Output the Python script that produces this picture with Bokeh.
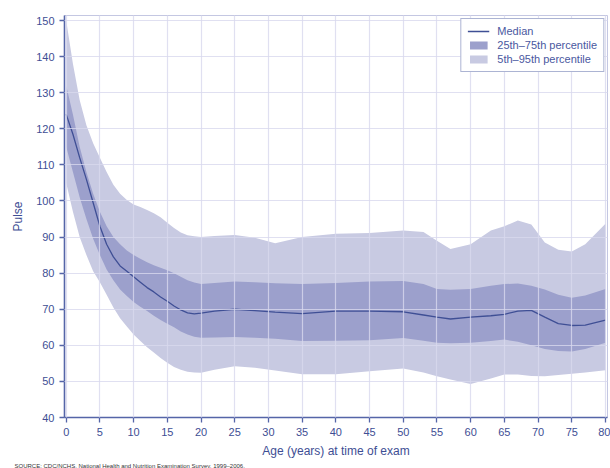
from bokeh.plotting import figure
from bokeh.models import ColumnDataSource, Legend, LegendItem, Title, FixedTicker, Range1d
from bokeh.embed import file_html
from bokeh.resources import INLINE

# Age (years) at time of exam
ages = [0, 1, 2, 3, 4, 5, 6, 7, 8, 9, 10, 11, 12, 13, 14, 15, 16, 17, 18, 19, 20, 22,
        25, 28, 31, 35, 40, 45, 50, 53, 55, 57, 60, 63, 65, 67, 69, 71, 73, 75, 77, 80]
p95 = [150, 138, 128, 121, 116, 112, 108, 104.5, 102, 100.3, 99, 98.3, 97.5, 96.6, 95.5, 94,
       92.5, 91.3, 90.5, 90.2, 90, 90.3,
       90.6, 89.8, 88.3, 90, 90.9, 91.1, 91.8, 91.4, 89, 86.7, 88, 91.8, 93, 94.6, 93.5,
       88.5, 86.5, 86, 88, 93.7]
p75 = [132, 124, 115, 108, 102, 97, 93, 90, 88, 86.3, 85, 84, 83, 82.2, 81.5, 80.8,
       80, 79, 78, 77.4, 77, 77.3,
       77.7, 77.5, 77.2, 77, 77.3, 77.7, 77.8, 77, 75.6, 75.4, 75.6, 76.5, 77, 77.1, 76.5,
       75.5, 74, 73.2, 73.8, 75.6]
p50 = [124, 118.5, 112, 106, 99.5, 93, 88, 84.5, 82, 80.5, 79, 77.5, 76, 74.8, 73.4, 72.2,
       70.9, 69.8, 69, 68.7, 68.9, 69.5,
       70, 69.6, 69.2, 68.8, 69.5, 69.5, 69.3, 68.4, 67.8, 67.3, 67.8, 68.2, 68.6, 69.5, 69.7,
       67.8, 66, 65.5, 65.6, 67]
p25 = [115, 108, 101, 95, 89.5, 85, 81, 78, 75.5, 73.7, 72, 70.7, 69.5, 68.2, 67, 66,
       65, 63.8, 63, 62.4, 62.1, 62.2,
       62.3, 62.1, 61.8, 61.2, 61.3, 61.4, 62, 61.3, 60.7, 60.6, 60.7, 61.2, 61.6, 61, 60,
       59, 58.4, 58.3, 59, 60.7]
p5 = [105, 97, 90, 85, 80.5, 77.5, 74, 70.5, 67.5, 65.2, 63, 61.2, 59.5, 58, 56.5, 55.2,
      54, 53.2, 52.7, 52.5, 52.4, 53.2,
      54.2, 53.8, 53, 52, 52, 52.8, 53.6, 52.5, 51.4, 50.5, 49.3, 50.8, 51.9, 51.9, 51.5,
      51.4, 51.8, 52.1, 52.5, 53.1]

x_ticks = list(range(0, 81, 5))
y_ticks = list(range(40, 151, 10))

src = ColumnDataSource(dict(age=ages, p5=p5, p25=p25, p50=p50, p75=p75, p95=p95))

NAVY = "#3e4e94"
p = figure(width=610, height=468, output_backend="svg", toolbar_location=None,
           x_range=Range1d(-0.25, 80.3), y_range=Range1d(40, 151.4),
           min_border_left=64, min_border_top=15, min_border_right=3, min_border_bottom=40,
           background_fill_color="white", border_fill_color="white")

light = p.varea(x="age", y1="p5", y2="p95", source=src, fill_color="#c8cae2")
dark = p.varea(x="age", y1="p25", y2="p75", source=src, fill_color="#9ca0cc")
med = p.line(x="age", y="p50", source=src, line_color="#3f4f95", line_width=1.3)

p.outline_line_color = "#c4c7e2"
p.outline_line_width = 1

for ax in (p.xaxis[0], p.yaxis[0]):
    ax.axis_line_color = "#5565a8"
    ax.axis_line_width = 1.6
    ax.major_tick_line_color = "#5565a8"
    ax.major_tick_line_width = 1.3
    ax.major_tick_out = 5
    ax.major_tick_in = 0
    ax.minor_tick_line_color = None
    ax.major_label_text_color = NAVY
    ax.major_label_text_font = "Liberation Sans"
    ax.major_label_text_font_size = "11px"
    ax.axis_label_text_color = NAVY
    ax.axis_label_text_font = "Liberation Sans"
    ax.axis_label_text_font_size = "12px"
    ax.axis_label_text_font_style = "normal"

p.xaxis.ticker = FixedTicker(ticks=x_ticks)
p.yaxis.ticker = FixedTicker(ticks=y_ticks)
p.xaxis.axis_label = "Age (years) at time of exam"
p.yaxis.axis_label = "Pulse"
p.xaxis.major_label_standoff = 5
p.yaxis.major_label_standoff = 5
p.xaxis.axis_label_standoff = 5
p.yaxis.axis_label_standoff = 8

p.xgrid.ticker = FixedTicker(ticks=x_ticks)
p.ygrid.ticker = FixedTicker(ticks=y_ticks)
for g in (p.xgrid[0], p.ygrid[0]):
    g.grid_line_color = "#d8d8ee"
    g.grid_line_alpha = 0.8
    g.grid_line_width = 1.2
    g.level = "guide"

legend = Legend(items=[
    LegendItem(label="Median", renderers=[med]),
    LegendItem(label="25th\u201375th percentile", renderers=[dark]),
    LegendItem(label="5th\u201395th percentile", renderers=[light]),
], location="top_right")
legend.border_line_color = "#5a69a8"
legend.border_line_width = 1
legend.background_fill_color = "white"
legend.background_fill_alpha = 1
legend.label_text_font = "Liberation Sans"
legend.label_text_font_size = "11px"
legend.label_text_color = "#4a58a0"
legend.glyph_width = 22
legend.glyph_height = 10
legend.label_height = 11
legend.label_standoff = 8
legend.spacing = 2
legend.padding = 6
legend.margin = 3
p.add_layout(legend)

src_note = Title(text="SOURCE: CDC/NCHS, National Health and Nutrition Examination Survey, 1999\u20132006.",
                 text_font="Liberation Sans", text_font_size="6px", text_font_style="normal",
                 text_color="#333333", align="left", offset=-50, standoff=0)
p.add_layout(src_note, "below")

open("out.html", "w").write(file_html(p, INLINE))
